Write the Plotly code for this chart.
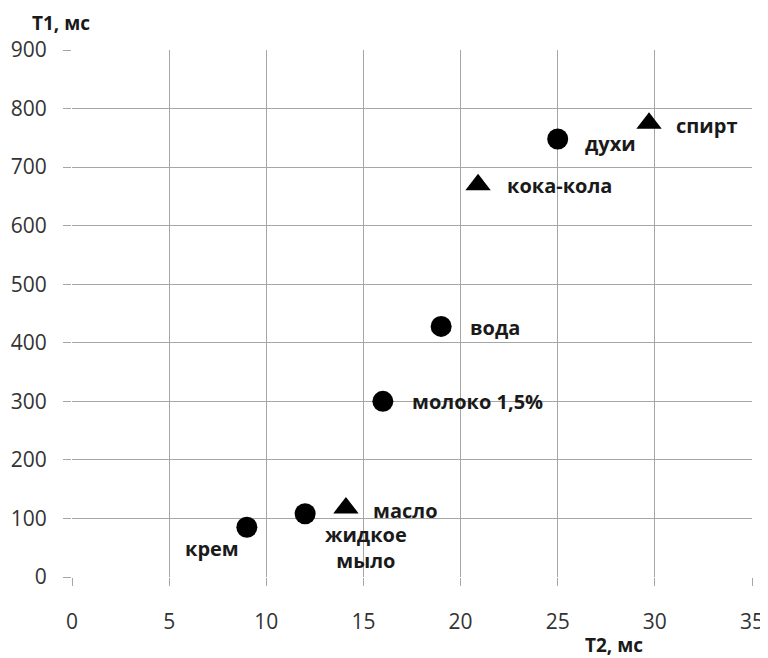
import plotly.graph_objects as go

# Data
circle_names = ["крем", "жидкое<br>мыло", "молоко 1,5%", "вода", "духи"]
circle_t2 = [9, 12, 16, 19, 25]
circle_t1 = [85, 108, 300, 428, 748]

tri_names = ["масло", "кока-кола", "спирт"]
tri_t2 = [14.1, 20.9, 29.7]
tri_t1 = [118, 670, 775]

x_ticks = [0, 5, 10, 15, 20, 25, 30, 35]
y_ticks = [0, 100, 200, 300, 400, 500, 600, 700, 800, 900]

FONT = "Open Sans, Liberation Sans, sans-serif"

fig = go.Figure()
fig.add_trace(go.Scatter(x=circle_t2, y=circle_t1, mode="markers",
                         marker=dict(symbol="circle", size=21, color="black"),
                         showlegend=False, hoverinfo="skip"))
fig.add_trace(go.Scatter(x=tri_t2, y=tri_t1, mode="markers",
                         marker=dict(symbol="triangle-up", size=22, color="black"),
                         showlegend=False, hoverinfo="skip"))

# label offsets (pixels) : (xanchor, xshift, yshift)
circle_off = [("center", -35, -21), ("center", 61, -34), ("left", 27, 0), ("left", 27, -1), ("left", 25, -4)]
tri_off = [("left", 25, -3), ("left", 27, -1), ("left", 25, -2)]

for names, xs, ys, offs in [(circle_names, circle_t2, circle_t1, circle_off),
                            (tri_names, tri_t2, tri_t1, tri_off)]:
    for n, x, y, (xa, dx, dy) in zip(names, xs, ys, offs):
        fig.add_annotation(x=x, y=y, text="<b>" + n + "</b>", showarrow=False,
                           xanchor=xa, yanchor="middle", xshift=dx, yshift=dy,
                           font=dict(family=FONT, size=20, color="#1a1a1a"),
                           align="center")

fig.add_annotation(xref="paper", yref="paper", x=-0.016, y=1.052, xanchor="center", yanchor="middle",
                   text="<b>T1, мс</b>", showarrow=False, borderpad=0,
                   font=dict(family=FONT, size=19, color="#1a1a1a"))
fig.add_annotation(xref="paper", yref="paper", x=0.797, y=-0.129, xanchor="center", yanchor="middle",
                   text="<b>T2, мс</b>", showarrow=False, borderpad=0,
                   font=dict(family=FONT, size=19, color="#1a1a1a"))

axis_common = dict(showgrid=True, gridcolor="#a6a6a6", gridwidth=1, zeroline=False,
                   showline=False, ticks="outside", ticklen=8, tickcolor="#a6a6a6",
                   tickfont=dict(family=FONT, size=21, color="#333"))

fig.update_xaxes(range=[0, 35], tickvals=x_ticks, ticklabelstandoff=18, **axis_common)
fig.update_yaxes(range=[0, 900], tickvals=y_ticks, ticklabelstandoff=12, **axis_common)

fig.update_layout(width=760, height=650, plot_bgcolor="white", paper_bgcolor="white",
                  margin=dict(l=64, r=16, t=42, b=81, autoexpand=False))

fig.write_html("out.html")
